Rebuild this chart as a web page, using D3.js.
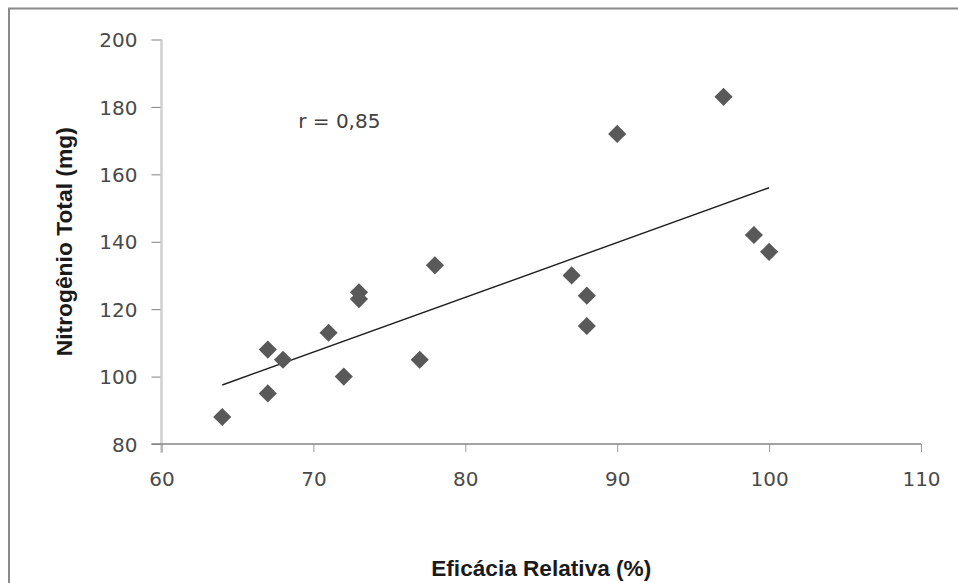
<!DOCTYPE html>
<html>
<head>
<meta charset="utf-8">
<script src="https://cdn.jsdelivr.net/npm/d3@7"></script>
<style>
  body { margin: 0; background: #fff; }
  svg { display: block; }
  .tick text { font-family: "DejaVu Sans", sans-serif; font-size: 20px; fill: #4a4a4a; }
  .title { font-family: "Liberation Sans", Arial, sans-serif; font-weight: bold; font-size: 22px; fill: #1a1a1a; }
</style>
</head>
<body>
<svg id="graph" width="958" height="583"></svg>
<script>
"use strict";

// Eficácia relativa (%) and nitrogênio total (mg), one entry per point
var eficacia   = [64, 67, 67, 68, 71, 72, 73, 73, 77, 78, 87, 88, 88, 90, 97, 99, 100];
var nitrogenio = [88, 108, 95, 105, 113, 100, 125, 123, 105, 133, 130, 124, 115, 172, 183, 142, 137];

var xTicks = [60, 70, 80, 90, 100, 110];
var yTicks = [80, 100, 120, 140, 160, 180, 200];
var rLabel = "r = 0,85";

var
  svg = d3.select("#graph"),
  margin = {top: 39.5, right: 37, bottom: 139, left: 161.5},
  width = 958 - margin.left - margin.right,
  height = 583 - margin.top - margin.bottom
;

// outer frame (only left and top edges show in the picture)
svg.append("rect")
  .attr("x", 9)
  .attr("y", 8.5)
  .attr("width", 1000)
  .attr("height", 1000)
  .attr("fill", "#fff")
  .attr("stroke", "#8a8a8a")
  .attr("stroke-width", 2);

var x = d3.scaleLinear().domain([60, 110]).range([0, width]);
var y = d3.scaleLinear().domain([80, 200]).range([height, 0]);

var plot = svg.append("g")
  .attr("transform", "translate(" + margin.left + "," + margin.top + ")");

// y axis
var yAxis = plot.append("g")
  .attr("class", "axis")
  .call(d3.axisLeft(y).tickValues(yTicks).tickSize(10).tickPadding(14));
yAxis.select(".domain").remove();
yAxis.selectAll(".tick line").attr("stroke", "#7f7f7f");
yAxis.selectAll(".tick text").attr("dy", "0.36em");
plot.append("line")
  .attr("x1", 0).attr("x2", 0)
  .attr("y1", 0).attr("y2", height + 9)
  .attr("stroke", "#cfcfcf")
  .attr("stroke-width", 2.5);

// x axis
var xAxis = plot.append("g")
  .attr("class", "axis")
  .attr("transform", "translate(0," + height + ")")
  .call(d3.axisBottom(x).tickValues(xTicks).tickSize(8).tickPadding(24));
xAxis.select(".domain").remove();
xAxis.selectAll(".tick line").attr("stroke", "#9a9a9a");
xAxis.selectAll(".tick text").attr("dy", "0.5em");
plot.append("line")
  .attr("x1", -10).attr("x2", width)
  .attr("y1", height).attr("y2", height)
  .attr("stroke", "#868686")
  .attr("stroke-width", 1.5);

// Line of best fit (least squares over the points)
var n = eficacia.length, xbar = d3.mean(eficacia), ybar = d3.mean(nitrogenio);
var sxy = 0, sxx = 0;
for (var i = 0; i != n; ++i) {
  sxy += (eficacia[i] - xbar) * (nitrogenio[i] - ybar);
  sxx += (eficacia[i] - xbar) * (eficacia[i] - xbar);
}
var slope = sxy / sxx, intercept = ybar - slope * xbar;

plot.append("path")
  .datum(d3.extent(eficacia))
  .attr("fill", "none")
  .attr("stroke", "#1e1e1e")
  .attr("stroke-width", 1.4)
  .attr("d", d3.line()
    .x(d => x(d))
    .y(d => y(intercept + slope * d)));

// Points
plot.append("g")
  .selectAll("path")
  .data(d3.range(n))
  .join("path")
    .attr("d", d3.symbol(d3.symbolSquare, 165))
    .attr("transform", i => "translate(" + x(eficacia[i]) + "," + y(nitrogenio[i]) + ") rotate(45)")
    .attr("fill", "#595959");

// r label
plot.append("text")
  .attr("x", x(69))
  .attr("y", y(173.8))
  .attr("font-family", "DejaVu Sans, sans-serif")
  .attr("font-size", "20px")
  .attr("fill", "#404040")
  .text(rLabel);

// axis titles
svg.append("text")
  .attr("class", "title")
  .attr("text-anchor", "middle")
  .attr("x", margin.left + width / 2)
  .attr("y", 576)
  .attr("textLength", 220)
  .attr("lengthAdjust", "spacingAndGlyphs")
  .text("Eficácia Relativa (%)");

svg.append("g")
  .attr("transform", "translate(72," + (margin.top + height / 2) + ") rotate(270)")
  .append("text")
  .attr("class", "title")
  .attr("text-anchor", "middle")
  .attr("textLength", 229)
  .attr("lengthAdjust", "spacingAndGlyphs")
  .text("Nitrogênio Total (mg)");
</script>
</body>
</html>
